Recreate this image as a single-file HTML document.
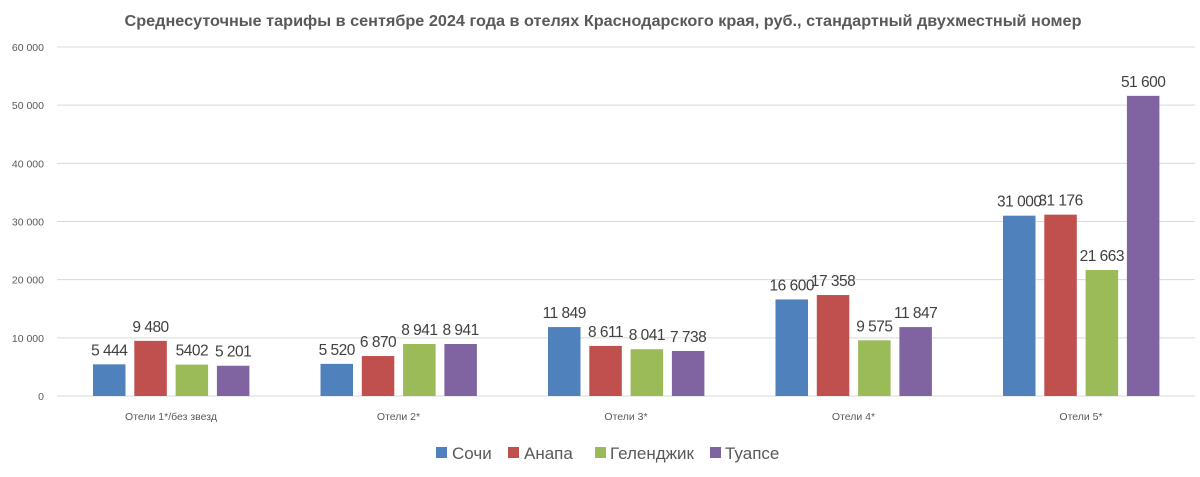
<!DOCTYPE html>
<html><head><meta charset="utf-8"><style>
html,body{margin:0;padding:0;background:#fff;width:1200px;height:477px;overflow:hidden}
text{font-family:"Liberation Sans","DejaVu Sans",sans-serif}
</style></head><body>
<svg id="s" width="1200" height="477" xmlns="http://www.w3.org/2000/svg">
<text x="603" y="26" text-anchor="middle" font-size="16" font-weight="bold" fill="#595959" textLength="957" lengthAdjust="spacingAndGlyphs">Среднесуточные тарифы в сентябре 2024 года в отелях Краснодарского  края, руб., стандартный двухместный номер</text>
<g id="grid"></g>
<g id="bars"></g>
<rect x="436" y="447" width="11" height="11" fill="#4f81bd"/><text x="452" y="459" font-size="17" fill="#595959">Сочи</text>
<rect x="508" y="447" width="11" height="11" fill="#c0504d"/><text x="524" y="459" font-size="17" fill="#595959">Анапа</text>
<rect x="595" y="447" width="11" height="11" fill="#9bbb59"/><text x="610" y="459" font-size="17" fill="#595959">Геленджик</text>
<rect x="710" y="447" width="11" height="11" fill="#8064a2"/><text x="725" y="459" font-size="17" fill="#595959">Туапсе</text>
</svg>
<script>
var ns="http://www.w3.org/2000/svg";
function el(p,t,a,txt){var e=document.createElementNS(ns,t);for(var k in a)e.setAttribute(k,a[k]);if(txt!=null)e.textContent=txt;document.getElementById(p).appendChild(e);}
var k=0.005817,base=396;
for(var i=0;i<=6;i++){var y=base-i*10000*k;
el("grid","line",{x1:57,x2:1195,y1:y,y2:y,stroke:"#d9d9d9","stroke-width":1});
el("grid","text",{x:44,y:y+4,"text-anchor":"end","font-size":10.5,fill:"#595959"},i==0?"0":(i*10)+" 000");}
var data=[[5444,9480,5402,5201],[5520,6870,8941,8941],[11849,8611,8041,7738],[16600,17358,9575,11847],[31000,31176,21663,51600]];
var lab=[["5 444","9 480","5402","5 201"],["5 520","6 870","8 941","8 941"],["11 849","8 611","8 041","7 738"],["16 600","17 358","9 575","11 847"],["31 000","31 176","21 663","51 600"]];
var cats=["Отели 1*/без звезд","Отели 2*","Отели 3*","Отели 4*","Отели 5*"];
var cols=["#4f81bd","#c0504d","#9bbb59","#8064a2"];
for(var g=0;g<5;g++){for(var j=0;j<4;j++){var x=93+227.5*g+41.3*j,h=data[g][j]*k;
el("bars","rect",{x:x,y:base-h,width:32.5,height:h,fill:cols[j]});
el("bars","text",{x:x+16.25,y:base-h-9,"text-anchor":"middle","font-size":15.5,"letter-spacing":"-0.5",fill:"#404040"},lab[g][j]);}
el("bars","text",{x:171+227.5*g,y:420,"text-anchor":"middle","font-size":10.5,fill:"#595959"},cats[g]);}
</script>
</body></html>
